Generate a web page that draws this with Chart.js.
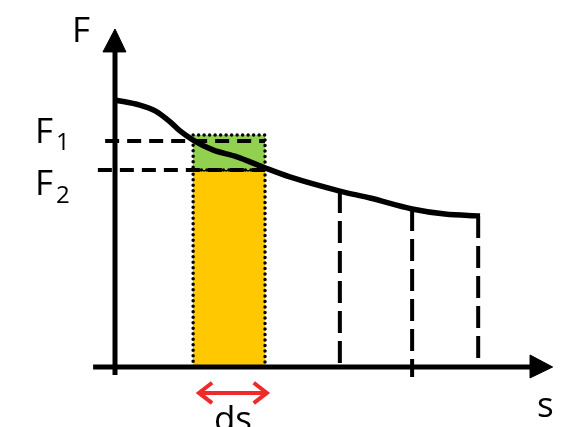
<!DOCTYPE html>
<html>
<head>
<meta charset="utf-8">
<script src="https://cdn.jsdelivr.net/npm/chart.js@4/dist/chart.umd.min.js"></script>
<style>
html,body{margin:0;padding:0;background:#fff;}
canvas{display:block;}
</style>
</head>
<body>
<canvas id="c" width="564" height="427"></canvas>
<script>
// ---- data (diagram units: s horizontal, F vertical) ----
const curveS = [0, 0.68, 1.10, 1.51, 1.78, 2.14, 2.68, 3.34, 4.05, 4.79, 6.16, 6.99, 8.14, 9.04, 10.00];
const curveF = [10.00, 9.81, 9.59, 9.18, 8.84, 8.50, 8.13, 7.87, 7.49, 7.12, 6.59, 6.33, 5.92, 5.73, 5.66];

const stripS = [2.14, 4.11];          // s and s+ds
const stripTopF = 8.69;               // top of green strip
const F1 = 8.46;
const F2 = 7.38;
const refLineStart = [-0.27, -0.47];  // left ends of F1 / F2 dashed lines

const dropS = [6.16, 8.14, 9.95];     // dashed drop lines
const dropTop = [6.59, 5.92, 5.66];
const dropBottom = [0, -0.37, 0.30];

const xAxisRange = [-0.60, 11.40];
const yAxisRange = [-0.30, 11.85];
const xArrow = {base: 11.37, tip: 11.99, half: [0.45, -0.41]};
const yArrow = {base: 11.80, tip: 12.66, half: [-0.33, 0.30]};

const dsArrowS = [2.30, 4.16];
const dsArrowF = -0.97;
const dsHead = {ds: 0.36, dF: 0.38};

const labelText = ['F', 's', 'F', '1', 'F', '2', 'ds'];
const labelS = [-1.18, 11.56, -2.19, -1.62, -2.19, -1.62, 2.71];
const labelF = [12.17, -1.87, 8.39, 8.13, 6.44, 6.14, -2.40];
const labelSize = [35, 35, 35, 24, 35, 24, 35];

const sRange = [-3.151, 12.301];
const FRange = [-2.247, 13.745];

// ---- build datasets ----
const pts = (xs, ys) => xs.map((x, i) => ({x, y: ys[i]}));
const BLACK = '#000000';
const datasets = [];

// curve F(s)
datasets.push({data: pts(curveS, curveF), borderColor: BLACK, borderWidth: 5.5,
  cubicInterpolationMode: 'monotone', borderCapStyle: 'butt'});

// axes
datasets.push({data: [{x: xAxisRange[0], y: 0}, {x: xAxisRange[1], y: 0}], borderColor: BLACK, borderWidth: 5});
datasets.push({data: [{x: 0, y: yAxisRange[0]}, {x: 0, y: yAxisRange[1]}], borderColor: BLACK, borderWidth: 5});
datasets.push({data: [{x: xArrow.base, y: xArrow.half[0]}, {x: xArrow.tip, y: 0}, {x: xArrow.base, y: xArrow.half[1]}, {x: xArrow.base, y: xArrow.half[0]}],
  borderColor: BLACK, borderWidth: 1, backgroundColor: BLACK, fill: 'shape'});
datasets.push({data: [{x: yArrow.half[0], y: yArrow.base}, {x: 0, y: yArrow.tip}, {x: yArrow.half[1], y: yArrow.base}, {x: yArrow.half[0], y: yArrow.base}],
  borderColor: BLACK, borderWidth: 1, backgroundColor: BLACK, fill: 'shape'});

// F1 / F2 dashed reference lines
datasets.push({data: [{x: refLineStart[0], y: F1}, {x: stripS[1], y: F1}], borderColor: BLACK, borderWidth: 4, borderDash: [14, 8]});
datasets.push({data: [{x: refLineStart[1], y: F2}, {x: stripS[1], y: F2}], borderColor: BLACK, borderWidth: 4, borderDash: [14, 8]});

// dashed drop lines
dropS.forEach((s, i) => {
  datasets.push({data: [{x: s, y: dropTop[i]}, {x: s, y: dropBottom[i]}], borderColor: BLACK, borderWidth: 4, borderDash: [22, 8]});
});

// ds arrow
const red = '#EE2A2A';
datasets.push({data: [{x: dsArrowS[0], y: dsArrowF}, {x: dsArrowS[1], y: dsArrowF}], borderColor: red, borderWidth: 4});
datasets.push({data: [{x: dsArrowS[0] + dsHead.ds, y: dsArrowF + dsHead.dF}, {x: dsArrowS[0], y: dsArrowF}, {x: dsArrowS[0] + dsHead.ds, y: dsArrowF - dsHead.dF}],
  borderColor: red, borderWidth: 4, borderJoinStyle: 'miter'});
datasets.push({data: [{x: dsArrowS[1] - dsHead.ds, y: dsArrowF + dsHead.dF}, {x: dsArrowS[1], y: dsArrowF}, {x: dsArrowS[1] - dsHead.ds, y: dsArrowF - dsHead.dF}],
  borderColor: red, borderWidth: 4, borderJoinStyle: 'miter'});

// green strip
datasets.push({data: [{x: stripS[0], y: stripTopF}, {x: stripS[1], y: stripTopF}, {x: stripS[1], y: F2}, {x: stripS[0], y: F2}, {x: stripS[0], y: stripTopF}],
  borderColor: BLACK, borderWidth: 3.5, borderDash: [0, 5.5], borderCapStyle: 'round', backgroundColor: '#92D050', fill: 'shape'});
// yellow strip
datasets.push({data: [{x: stripS[0], y: F2}, {x: stripS[1], y: F2}, {x: stripS[1], y: 0}, {x: stripS[0], y: 0}, {x: stripS[0], y: F2}],
  borderColor: BLACK, borderWidth: 3.5, borderDash: [0, 5.5], borderCapStyle: 'round', backgroundColor: '#FFC800', fill: 'shape'});

datasets.forEach(d => { d.showLine = true; d.pointRadius = 0; d.pointHoverRadius = 0; if (d.fill === undefined) d.fill = false; });

const textPlugin = {
  id: 'labels',
  afterDraw(chart) {
    const ctx = chart.ctx, xs = chart.scales.x, ys = chart.scales.y;
    ctx.save();
    ctx.fillStyle = '#000';
    ctx.textAlign = 'left';
    ctx.textBaseline = 'alphabetic';
    labelText.forEach((t, i) => {
      ctx.font = labelSize[i] + 'px "Open Sans", "Liberation Sans", sans-serif';
      ctx.fillText(t, xs.getPixelForValue(labelS[i]), ys.getPixelForValue(labelF[i]));
    });
    ctx.restore();
  }
};

new Chart(document.getElementById('c'), {
  type: 'scatter',
  data: {datasets},
  options: {
    responsive: false,
    animation: false,
    devicePixelRatio: 1,
    layout: {padding: 0},
    plugins: {legend: {display: false}, tooltip: {enabled: false}},
    events: [],
    scales: {
      x: {type: 'linear', min: sRange[0], max: sRange[1], display: false},
      y: {type: 'linear', min: FRange[0], max: FRange[1], display: false}
    }
  },
  plugins: [textPlugin]
});
</script>
</body>
</html>
